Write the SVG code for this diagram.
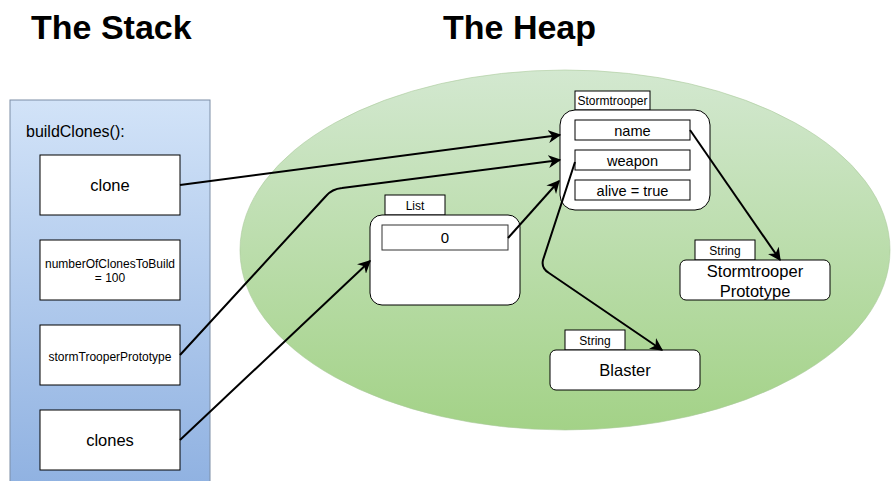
<svg xmlns="http://www.w3.org/2000/svg" width="891" height="481" viewBox="0 0 891 481">
  <style>
    .t { font-family: "Liberation Sans", Arial, sans-serif; fill: #000; }
    .title { font-size: 34px; font-weight: bold; }
    .box { fill: #fff; stroke: #000; stroke-width: 1; }
    .edge { fill: none; stroke: #000; stroke-width: 2; marker-end: url(#arr); }
  </style>
  <defs>
    <linearGradient id="blueGrad" x1="0" y1="0" x2="0" y2="1">
      <stop offset="0" stop-color="#d2e3f8"/>
      <stop offset="1" stop-color="#8fb1e1"/>
    </linearGradient>
    <linearGradient id="greenGrad" x1="0" y1="0" x2="0" y2="1">
      <stop offset="0" stop-color="#d3e8d0"/>
      <stop offset="1" stop-color="#a3d287"/>
    </linearGradient>
    <marker id="arr" viewBox="0 0 10 10" refX="9" refY="5" markerWidth="6.5" markerHeight="6.5" orient="auto" markerUnits="strokeWidth">
      <path d="M0,0 L10,5 L0,10 L3,5 Z" fill="#000"/>
    </marker>
  </defs>

  <text class="t title" x="31" y="39">The Stack</text>
  <text class="t title" x="443" y="39">The Heap</text>

  <g id="stack">
    <rect x="10" y="100" width="200" height="390" fill="url(#blueGrad)" stroke="#7d8ea6" stroke-width="1"/>
    <text class="t" x="26" y="137" font-size="16">buildClones():</text>
  </g>

  <g id="heap">
    <ellipse cx="565" cy="250" rx="325" ry="180" fill="url(#greenGrad)" stroke="#a9c99a" stroke-width="0.6"/>
  </g>

  <g id="clone">
    <rect class="box" x="40" y="155" width="140" height="60"/>
    <text class="t" x="110" y="191" font-size="16.5" text-anchor="middle">clone</text>
  </g>
  <g id="numberOfClonesToBuild">
    <rect class="box" x="40" y="240" width="140" height="60"/>
    <text class="t" x="110" y="268" font-size="12" text-anchor="middle">numberOfClonesToBuild</text>
    <text class="t" x="110" y="282" font-size="12" text-anchor="middle">= 100</text>
  </g>
  <g id="stormTrooperPrototype">
    <rect class="box" x="40" y="325" width="140" height="60"/>
    <text class="t" x="110" y="361" font-size="12" text-anchor="middle">stormTrooperPrototype</text>
  </g>
  <g id="clones">
    <rect class="box" x="40" y="410" width="140" height="60"/>
    <text class="t" x="110" y="446" font-size="16.5" text-anchor="middle">clones</text>
  </g>

  <g id="stormtrooper">
    <rect class="box" x="575" y="91" width="75" height="19"/>
    <text class="t" x="612.5" y="105" font-size="12" text-anchor="middle">Stormtrooper</text>
    <rect class="box" x="560" y="110" width="150" height="100" rx="15" ry="15"/>
    <rect class="box" x="575" y="120" width="115" height="20"/>
    <text class="t" x="632.5" y="135.5" font-size="14.6" text-anchor="middle">name</text>
    <rect class="box" x="575" y="150" width="115" height="20"/>
    <text class="t" x="632.5" y="165.5" font-size="14.6" text-anchor="middle">weapon</text>
    <rect class="box" x="575" y="180" width="115" height="20"/>
    <text class="t" x="632.5" y="195.5" font-size="14.6" text-anchor="middle">alive = true</text>
  </g>

  <g id="list">
    <rect class="box" x="385" y="195" width="60" height="20"/>
    <text class="t" x="415" y="209.5" font-size="12" text-anchor="middle">List</text>
    <rect class="box" x="370" y="215" width="150" height="90" rx="12" ry="12"/>
    <rect x="382" y="225" width="126" height="25" fill="#fff" stroke="#333" stroke-width="1"/>
    <text class="t" x="445" y="243" font-size="15" text-anchor="middle">0</text>
  </g>

  <g id="stringPrototype">
    <rect class="box" x="695" y="240" width="60" height="20"/>
    <text class="t" x="725" y="254.5" font-size="12" text-anchor="middle">String</text>
    <rect class="box" x="680" y="260" width="150" height="40" rx="6" ry="6"/>
    <text class="t" x="755" y="276.5" font-size="16.5" text-anchor="middle">Stormtrooper</text>
    <text class="t" x="755" y="297" font-size="16.5" text-anchor="middle">Prototype</text>
  </g>

  <g id="stringBlaster">
    <rect class="box" x="565" y="330" width="60" height="20"/>
    <text class="t" x="595" y="344.5" font-size="12" text-anchor="middle">String</text>
    <rect class="box" x="550" y="350" width="150" height="40" rx="6" ry="6"/>
    <text class="t" x="625" y="376" font-size="16.5" text-anchor="middle">Blaster</text>
  </g>

  <g id="connectors">
    <path class="edge" d="M180,185 L560,135"/>
    <path class="edge" d="M180,355 L326,196 Q332,189 342,188 L560,160"/>
    <path class="edge" d="M180,440 L370,261"/>
    <path class="edge" d="M508,238 L559,181"/>
    <path class="edge" d="M690,130 L780,260"/>
    <path class="edge" d="M575,162 L543,260 Q541,268 549,273 L662,350"/>
  </g>
</svg>
